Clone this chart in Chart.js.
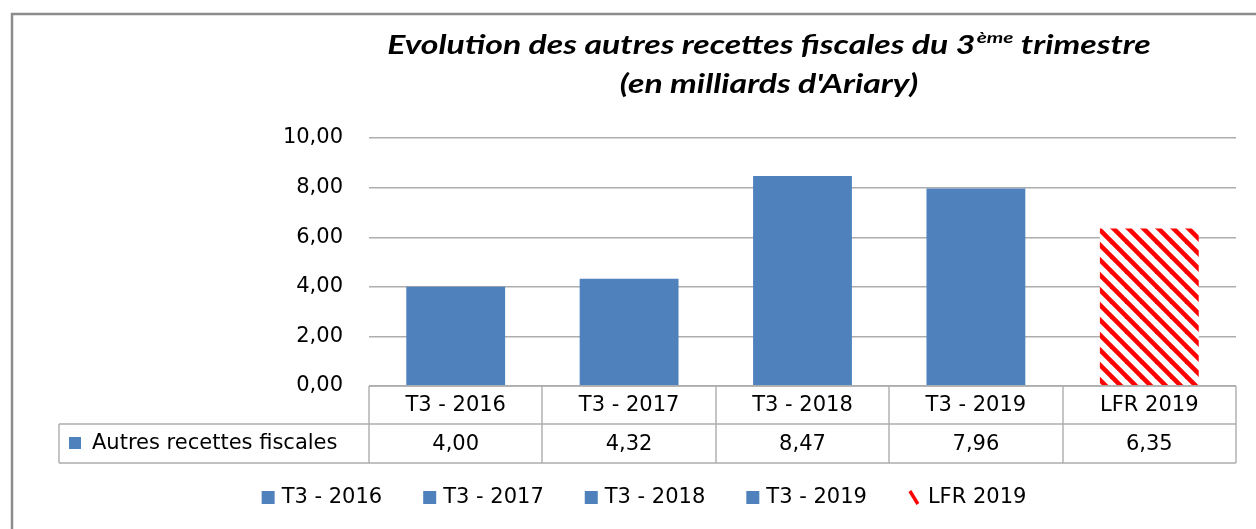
<!DOCTYPE html>
<html>
<head>
<meta charset="utf-8">
<script src="https://cdn.jsdelivr.net/npm/chart.js@4.4.1/dist/chart.umd.min.js"></script>
<style>
  html, body { margin: 0; padding: 0; background: #fff; }
  #wrap { width: 1256px; height: 529px; }
</style>
</head>
<body>
<div id="wrap"><canvas id="chart" width="1256" height="529"></canvas></div>
<script>
var categories = ['T3 - 2016', 'T3 - 2017', 'T3 - 2018', 'T3 - 2019', 'LFR 2019'];
var values = [4.00, 4.32, 8.47, 7.96, 6.35];
var seriesName = 'Autres recettes fiscales';
var yTicks = [0, 2, 4, 6, 8, 10];
var titleLine1 = ['Evolution des autres recettes fiscales du 3', 'ème', ' trimestre'];
var titleLine2 = "(en milliards d'Ariary)";

var FONT = '"DejaVu Sans", sans-serif';
var TFONT = 'Lato, "Open Sans", sans-serif';
var BLUE = '#4F81BD';
var GRID = '#ADADAD';

function fmt(v){
  return v.toFixed(2).replace('.', ',');
}

// red diagonal stripes for the LFR bar
function makeStripes(){
  var p = 15;
  var c = document.createElement('canvas');
  c.width = p; c.height = p;
  var g = c.getContext('2d');
  g.fillStyle = '#fff';
  g.fillRect(0, 0, p, p);
  g.strokeStyle = '#FF0000';
  g.lineWidth = 4.6;
  for (var k = -1; k <= 1; k++){
    g.beginPath();
    g.moveTo(k * p - 2, -2);
    g.lineTo(k * p + p + 2, p + 2);
    g.stroke();
  }
  return g.createPattern(c, 'repeat');
}
var stripes = makeStripes();

var colors = categories.map(function(c, i){
  return i === categories.length - 1 ? stripes : BLUE;
});

// text stretched horizontally, like the original picture
function wideText(ctx, txt, x, y, sx){
  ctx.save();
  ctx.translate(x, y);
  ctx.scale(sx, 1);
  ctx.fillText(txt, 0, 0);
  ctx.restore();
}

var decor = {
  id: 'decor',
  beforeDraw: function(chart){
    var ctx = chart.ctx;
    ctx.save();
    ctx.fillStyle = '#fff';
    ctx.fillRect(0, 0, chart.width, chart.height);
    ctx.strokeStyle = '#8C8C8C';
    ctx.lineWidth = 2.5;
    ctx.strokeRect(12, 14, chart.width + 20, chart.height + 20);
    ctx.restore();
  },
  afterDraw: function(chart){
    var ctx = chart.ctx;
    var x = chart.scales.x;
    var area = chart.chartArea;
    ctx.save();

    // title
    var cx = 769, sx = 1.3;
    var big = 'italic bold 26px ' + TFONT;
    var small = 'italic bold 16px ' + TFONT;
    ctx.font = big;
    var w0 = ctx.measureText(titleLine1[0]).width;
    var w2 = ctx.measureText(titleLine1[2]).width;
    var wl2 = ctx.measureText(titleLine2).width;
    ctx.font = small;
    var w1 = ctx.measureText(titleLine1[1]).width + 1;
    var start = cx - (w0 + w1 + w2) * sx / 2;
    ctx.fillStyle = '#000';
    ctx.textBaseline = 'middle';
    ctx.textAlign = 'left';
    ctx.font = big;
    wideText(ctx, titleLine1[0], start, 46, sx);
    ctx.font = small;
    wideText(ctx, titleLine1[1], start + (w0 + 1) * sx, 38, sx);
    ctx.font = big;
    wideText(ctx, titleLine1[2], start + (w0 + w1) * sx, 46, sx);
    wideText(ctx, titleLine2, cx - wl2 * sx / 2, 85, sx);

    // data table
    var top = area.bottom, mid = 424, bot = 463, left = 59;
    var n = categories.length;
    var half = (x.getPixelForValue(1) - x.getPixelForValue(0)) / 2;
    ctx.strokeStyle = GRID;
    ctx.lineWidth = 1.4;
    ctx.beginPath();
    ctx.moveTo(area.left, top); ctx.lineTo(area.right, top);
    ctx.moveTo(left, mid); ctx.lineTo(area.right, mid);
    ctx.moveTo(left, bot); ctx.lineTo(area.right, bot);
    ctx.moveTo(left, mid); ctx.lineTo(left, bot);
    for (var i = 0; i <= n; i++){
      var bx = i < n ? x.getPixelForValue(i) - half : x.getPixelForValue(n - 1) + half;
      ctx.moveTo(Math.round(bx), top); ctx.lineTo(Math.round(bx), bot);
    }
    ctx.stroke();

    ctx.font = '21px ' + FONT;
    ctx.fillStyle = '#000';
    ctx.textAlign = 'center';
    for (var j = 0; j < n; j++){
      var px = x.getPixelForValue(j);
      ctx.fillText(categories[j], px, 406);
      ctx.fillText(fmt(values[j]), px, 445);
    }
    ctx.fillStyle = BLUE;
    ctx.fillRect(69, 437, 12, 12);
    ctx.fillStyle = '#000';
    ctx.textAlign = 'left';
    ctx.fillText(seriesName, 92, 444);

    // legend
    var gap = 41, items = [], total = 0;
    for (var k = 0; k < n; k++){
      var w = 20 + ctx.measureText(categories[k]).width;
      items.push(w);
      total += w + (k ? gap : 0);
    }
    var lx = 644 - total / 2;
    for (var k = 0; k < n; k++){
      if (k < n - 1){
        ctx.fillStyle = BLUE;
        ctx.fillRect(lx, 491, 13, 13);
      } else {
        ctx.strokeStyle = '#FF0000';
        ctx.lineWidth = 3.4;
        ctx.beginPath();
        ctx.moveTo(lx + 2, 491);
        ctx.lineTo(lx + 10, 504);
        ctx.stroke();
      }
      ctx.fillStyle = '#000';
      ctx.fillText(categories[k], lx + 20, 498);
      lx += items[k] + gap;
    }
    ctx.restore();
  }
};

new Chart(document.getElementById('chart'), {
  type: 'bar',
  data: {
    labels: categories,
    datasets: [{
      label: seriesName,
      data: values,
      backgroundColor: colors,
      borderWidth: 0,
      categoryPercentage: 1,
      barPercentage: 0.57
    }]
  },
  options: {
    responsive: false,
    animation: false,
    layout: { padding: { left: 0, right: 20, top: 138, bottom: 143 } },
    plugins: {
      legend: { display: false },
      title: { display: false },
      tooltip: { enabled: false }
    },
    scales: {
      x: { display: false },
      y: {
        min: 0,
        max: 10,
        afterFit: function(s){ s.width = 369; },
        afterBuildTicks: function(s){
          s.ticks = yTicks.map(function(v){ return { value: v }; });
        },
        border: { display: false },
        grid: { color: GRID, lineWidth: 1.4, drawTicks: false },
        ticks: {
          padding: 26,
          color: '#000',
          font: { family: FONT, size: 21 },
          callback: function(v){ return fmt(v); }
        }
      }
    }
  },
  plugins: [decor]
});
</script>
</body>
</html>
